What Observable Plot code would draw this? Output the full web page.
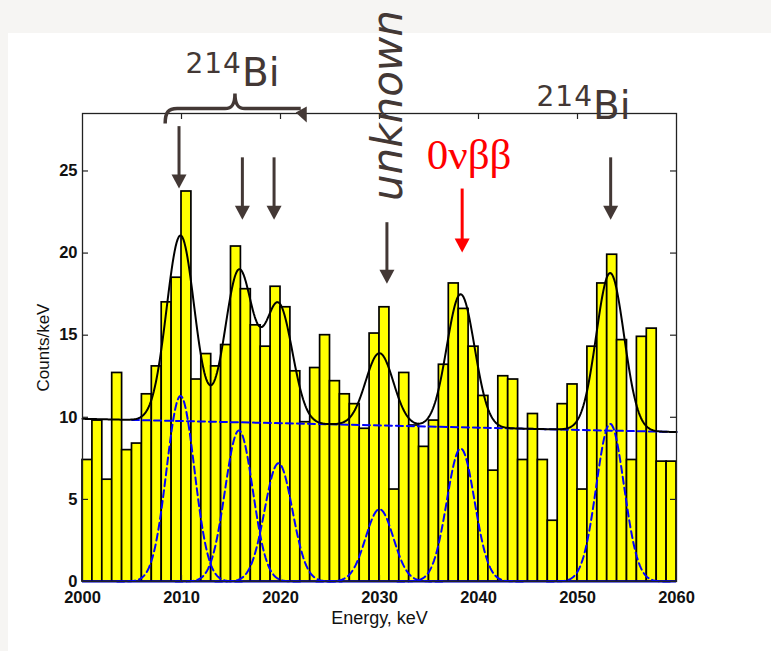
<!DOCTYPE html>
<html><head><meta charset="utf-8">
<script src="https://cdn.jsdelivr.net/npm/d3@7"></script>
<script src="https://cdn.jsdelivr.net/npm/@observablehq/plot@0.6"></script>
<style>
html,body{margin:0;padding:0;background:#f6f5f3;width:771px;height:651px;overflow:hidden}
#panel{position:absolute;left:8px;top:33px;right:0;bottom:0;background:#fff}
#chart{position:absolute;left:0;top:0}
</style></head><body>
<div id="panel"></div><div id="chart"></div>
<script>
// ---- data ----
const binStart = d3.range(2000, 2060); // 1 keV bins
const counts = [7.4, 9.8, 6.2, 12.7, 8.0, 8.4, 11.4, 13.1, 17.0, 18.5,
  23.75, 12.3, 13.85, 13.1, 14.4, 20.4, 17.8, 15.6, 14.3, 17.95,
  16.7, 12.8, 9.7, 13.0, 15.0, 12.2, 11.4, 10.8, 9.3, 15.1,
  16.7, 5.6, 12.7, 9.5, 8.2, 9.8, 13.2, 18.15, 16.6, 14.3,
  11.3, 6.75, 12.5, 12.3, 7.4, 10.2, 7.4, 3.7, 10.8, 12.0,
  5.6, 14.3, 18.15, 19.9, 14.7, 7.4, 14.9, 15.4, 7.3, 7.3];
const peakEnergy = [2009.9, 2015.8, 2019.8, 2030.0, 2038.2, 2053.3];
const peakAmplitude = [11.3, 9.2, 7.2, 4.4, 8.1, 9.6];
const peakSigma = [1.4, 1.4, 1.4, 1.4, 1.4, 1.4];
const backgroundEnergy = [2005, 2060];
const backgroundLevel = [9.84, 9.1];
const xTicks = [2000, 2010, 2020, 2030, 2040, 2050, 2060];
const yTicks = [0, 5, 10, 15, 20, 25];
const arrowEnergy = [2009.8, 2016.2, 2019.4, 2030.8, 2038.4, 2053.4];
const arrowTop = [27.7, 25.8, 25.8, 21.85, 23.9, 25.8];
const arrowTip = [23.9, 22.0, 22.0, 18.1, 20.0, 22.0];
const arrowIsSignal = [false, false, false, false, true, false];

// ---- tables ----
const bars = binStart.map((e, i) => ({x1: e, x2: e + 1, y: counts[i]}));
const bg = e => backgroundLevel[0] + (e - backgroundEnergy[0]) * (backgroundLevel[1] - backgroundLevel[0]) / (backgroundEnergy[1] - backgroundEnergy[0]);
const gauss = (e, i) => peakAmplitude[i] * Math.exp(-((e - peakEnergy[i]) ** 2) / (2 * peakSigma[i] ** 2));
const grid = d3.range(2000, 2060.001, 0.1);
const fit = grid.map(e => ({e, v: bg(e) + peakEnergy.reduce((s, _, i) => s + gauss(e, i), 0)}));
const comps = [];
peakEnergy.forEach((p, i) => {
  grid.filter(e => Math.abs(e - p) <= 4.6 * peakSigma[i]).forEach(e => comps.push({e, v: gauss(e, i), k: i}));
});
const bgLine = backgroundEnergy.map((e, i) => ({e, v: backgroundLevel[i]}));

const W = 771, H = 651, mL = 82, mR = 95, mT = 113, mB = 70;
const fw = W - mL - mR, fh = H - mT - mB;
const ink = "#433835";
const blue = "#0000ff";

function annotate(index, scales) {
  const X = scales.x, Y = scales.y;
  const g = d3.create("svg:g");
  arrowEnergy.forEach((e, i) => {
    const c = arrowIsSignal[i] ? "#ff0000" : ink;
    const x = X(e), y0 = Y(arrowTop[i]), y1 = Y(arrowTip[i]);
    g.append("line").attr("x1", x).attr("x2", x).attr("y1", y0).attr("y2", y1 - 12)
      .attr("stroke", c).attr("stroke-width", 3);
    g.append("path").attr("d", `M${x - 7.5},${y1 - 14}L${x + 7.5},${y1 - 14}L${x},${y1}Z`).attr("fill", c);
  });
  // brace over the three 214Bi lines
  const bl = X(2008.4), br = X(2022.7), bm = X(2015.45), by = Y(28.77);
  g.append("path")
    .attr("d", `M${bl},${by + 15}C${bl},${by + 4} ${bl + 3},${by} ${bl + 12},${by}L${bm - 10},${by}C${bm - 3},${by} ${bm},${by - 4} ${bm},${by - 15}C${bm},${by - 4} ${bm + 3},${by} ${bm + 10},${by}L${br - 6},${by}`)
    .attr("fill", "none").attr("stroke", ink).attr("stroke-width", 3.5);
  g.append("path").attr("d", `M${br - 11},${by + 4}L${br},${by - 2}L${br},${by + 14}Z`).attr("fill", ink);
  // labels
  const lab = (x, y, sup, main) => {
    const t = g.append("text").attr("x", x).attr("y", y).attr("text-anchor", "middle")
      .attr("fill", ink).attr("font-family", "DejaVu Sans").attr("font-weight", "normal");
    t.append("tspan").attr("font-size", 28).attr("dy", -13).attr("letter-spacing", 1).text(sup);
    t.append("tspan").attr("font-size", 39).attr("dy", 13).text(main);
  };
  lab(X(2015.2), Y(30.17), "214", "Bi");
  lab(X(2050.66), Y(28.16), "214", "Bi");
  g.append("text").attr("transform", `translate(${X(2032.3)},${Y(28.95)}) rotate(-90)`)
    .attr("text-anchor", "middle").attr("fill", ink).attr("font-family", "DejaVu Sans")
    .attr("font-style", "italic").attr("font-weight", "normal").attr("font-size", 42).text("unknown");
  g.append("text").attr("x", X(2039.1)).attr("y", Y(25.1)).attr("text-anchor", "middle")
    .attr("fill", "#ff0000").attr("font-family", "Liberation Serif").attr("font-weight", "normal")
    .attr("font-size", 43).text("0νββ");
  return g.node();
}

const chart = Plot.plot({
  width: W, height: H,
  marginLeft: mL, marginRight: mR, marginTop: mT, marginBottom: mB,
  style: {background: "transparent", overflow: "visible", fontFamily: "Liberation Sans, Arial, sans-serif", fontSize: "16.5px", fontWeight: "bold", color: "#111"},
  x: {domain: [2000, 2060], ticks: xTicks, tickFormat: d => String(d), tickSize: 0, tickPadding: 10, label: null},
  y: {domain: [0, 28.5], ticks: yTicks, tickFormat: d => String(d), tickSize: 0, tickPadding: 5, label: null},
  marks: [
    Plot.rectY(bars, {x1: "x1", x2: "x2", y: "y", fill: "#ffff00", stroke: "#000", strokeWidth: 1.7}),
    Plot.ruleY([0], {stroke: blue, strokeWidth: 2.2}),
    Plot.line(comps, {x: "e", y: "v", z: "k", stroke: blue, strokeWidth: 2, strokeDasharray: "7,4"}),
    Plot.line(bgLine, {x: "e", y: "v", stroke: blue, strokeWidth: 2, strokeDasharray: "7,4"}),
    Plot.line(fit, {x: "e", y: "v", stroke: "#000", strokeWidth: 2}),
    Plot.frame({stroke: "#222", strokeWidth: 1.3}),
    Plot.ruleX(xTicks.slice(1, -1), {stroke: "#222", strokeWidth: 1.2, insetTop: fh - 6}),
    Plot.ruleX(xTicks.slice(1, -1), {stroke: "#222", strokeWidth: 1.2, insetBottom: fh - 6}),
    Plot.ruleY(yTicks.slice(1), {stroke: "#222", strokeWidth: 1.2, insetRight: fw - 6}),
    Plot.ruleY(yTicks.slice(1), {stroke: "#222", strokeWidth: 1.2, insetLeft: fw - 6}),
    Plot.text(["Energy, keV"], {text: d => d, frameAnchor: "bottom", lineAnchor: "middle", textAnchor: "middle", dy: 37, fontSize: 18, fontWeight: "normal", fill: "#111"}),
    Plot.text(["Counts/keV"], {text: d => d, frameAnchor: "left", lineAnchor: "middle", textAnchor: "middle", dx: -39, rotate: -90, fontSize: 17, fontWeight: "normal", fill: "#111"}),
    annotate
  ]
});
document.getElementById("chart").appendChild(chart);
</script></body></html>
